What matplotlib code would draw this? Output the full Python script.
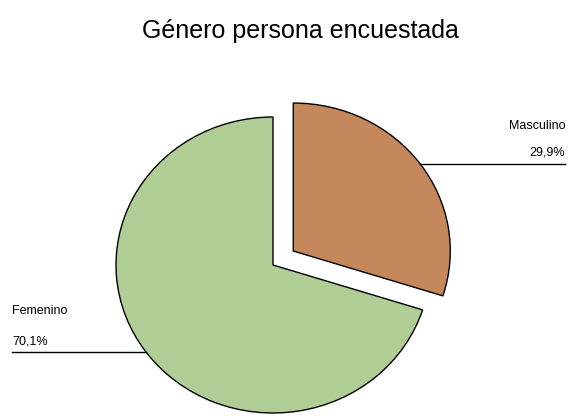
import numpy as np
import matplotlib.pyplot as plt

plt.rcParams['font.family'] = ['Liberation Sans', 'DejaVu Sans']

title = "Género persona encuestada"
labels = ["Masculino", "Femenino"]
values = [29.9, 70.1]
pct_text = ["29,9%", "70,1%"]
colors = ["#C5875C", "#B0CD95"]

W, H = 574, 416
fig = plt.figure(figsize=(W / 100, H / 100), dpi=100)
ax = fig.add_axes([0, 0, 1, 1])

# pie is slightly wider than tall in the original
cx, cy = 273, 151          # centre in pixels (from bottom)
rx, ry = 157, 148          # pixels per unit radius
wedges, _ = ax.pie(values, colors=colors, startangle=90, counterclock=False,
                   explode=[0.16, 0], radius=1,
                   wedgeprops=dict(edgecolor="black", linewidth=1.0))
ax.set_aspect("auto")
ax.set_xlim(-cx / rx, (W - cx) / rx)
ax.set_ylim(-cy / ry, (H - cy) / ry)
ax.axis("off")

# leader lines + labels
for w, lab, pt in zip(wedges, labels, pct_text):
    mid = np.deg2rad((w.theta1 + w.theta2) / 2)
    wx, wy = w.center
    ex = wx + np.cos(mid)
    ey = wy + np.sin(mid)
    if np.cos(mid) > 0:
        x_end = (565 - cx) / rx
        ax.plot([ex, x_end], [ey, ey], color="black", lw=1)
        ax.text(x_end, ey + 5 / ry, pt, ha="right", va="bottom", fontsize=9)
        ax.text(x_end, ey + 32 / ry, lab, ha="right", va="bottom", fontsize=9)
    else:
        x_end = (12 - cx) / rx
        ax.plot([x_end, ex], [ey, ey], color="black", lw=1)
        ax.text(x_end, ey + 5 / ry, pt, ha="left", va="bottom", fontsize=9)
        ax.text(x_end, ey + 35 / ry, lab, ha="left", va="bottom", fontsize=9)

fig.text(300 / W, 1 - 31 / H, title, ha="center", va="center", fontsize=18)

fig.savefig("out.png", dpi=100)
